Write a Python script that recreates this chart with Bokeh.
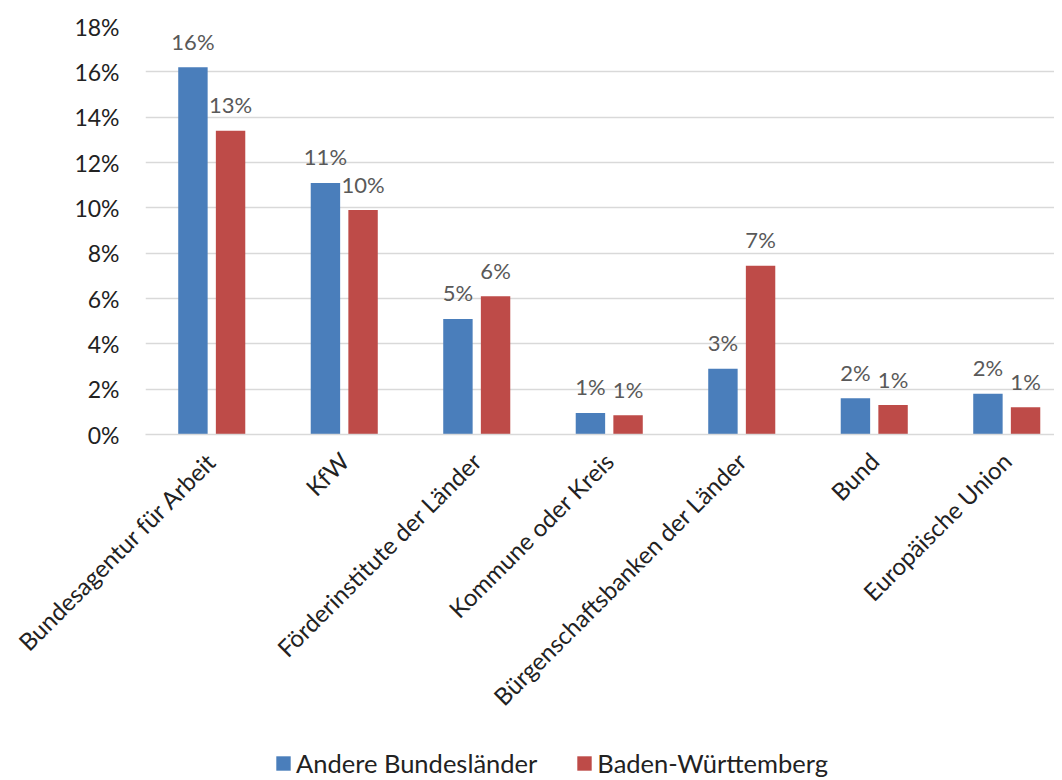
from bokeh.plotting import figure
from bokeh.layouts import column
from bokeh.models import ColumnDataSource, Range1d, FixedTicker, PrintfTickFormatter, Legend, LegendItem
from bokeh.core.properties import value
from bokeh.embed import file_html
from bokeh.resources import INLINE

categories = ["Bundesagentur für Arbeit", "KfW", "Förderinstitute der Länder",
              "Kommune oder Kreis", "Bürgenschaftsbanken der Länder", "Bund",
              "Europäische Union"]
andere = [16.2, 11.1, 5.1, 0.95, 2.9, 1.6, 1.8]
bw = [13.4, 9.9, 6.1, 0.85, 7.45, 1.3, 1.2]
series_names = ["Andere Bundesländer", "Baden-Württemberg"]
y_ticks = [0, 2, 4, 6, 8, 10, 12, 14, 16, 18]

FONT = "Lato"
BLUE = "#4A7EBB"
RED = "#BE4B48"

idx = [i + 0.5 for i in range(len(categories))]
off = 0.142
w = 0.222
src = ColumnDataSource(dict(
    xa=[x - off for x in idx], xb=[x + off for x in idx], a=andere, b=bw,
    la=[f"{round(v):d}%" for v in andere],
    lb=[f"{round(v):d}%" for v in bw],
))

W, H = 1054, 746
LH = 32
left, top, bottom = 145, 26, 434
frame_w = W - left
x_end = frame_w / 132.5

p = figure(width=W, height=H, x_range=Range1d(0, x_end), y_range=Range1d(0, 18),
           output_backend="svg", toolbar_location=None,
           min_border_left=left, min_border_right=0, min_border_top=top,
           min_border_bottom=H - bottom)
p.outline_line_color = None
p.background_fill_color = "white"
p.border_fill_color = "white"

p.vbar(x="xa", top="a", width=w, source=src, fill_color=BLUE, line_color=None)
p.vbar(x="xb", top="b", width=w, source=src, fill_color=RED, line_color=None)

for xc, col, lab in (("xa", "a", "la"), ("xb", "b", "lb")):
    p.text(x=xc, y=col, text=lab, source=src,
           text_align="center", text_baseline="alphabetic", y_offset=-26,
           text_font=value(FONT), text_font_size="22px", text_color="#595959")

p.xgrid.grid_line_color = None
p.ygrid.grid_line_color = "#D9D9D9"
p.ygrid.grid_line_width = 1.5
p.ygrid.ticker = FixedTicker(ticks=y_ticks)

p.yaxis.ticker = FixedTicker(ticks=y_ticks)
p.yaxis.formatter = PrintfTickFormatter(format="%d%%")
p.yaxis.axis_line_color = None
p.yaxis.major_tick_line_color = None
p.yaxis.minor_tick_line_color = None
p.yaxis.major_label_text_font = FONT
p.yaxis.major_label_text_font_size = "23px"
p.yaxis.major_label_text_color = "#222222"
p.yaxis.major_label_standoff = 20

p.xaxis.ticker = FixedTicker(ticks=idx)
p.xaxis.major_label_overrides = {x: c for x, c in zip(idx, categories)}
p.xaxis.axis_line_color = "#D9D9D9"
p.xaxis.axis_line_width = 1.5
p.xaxis.major_tick_line_color = None
p.xaxis.minor_tick_line_color = None
p.xaxis.major_label_orientation = 0.785398
p.xaxis.major_label_text_font = FONT
p.xaxis.major_label_text_font_size = "24px"
p.xaxis.major_label_text_color = "#222222"
p.xaxis.major_label_standoff = 16

# legend strip below the chart
lg = figure(width=W, height=LH, x_range=Range1d(0, 1), y_range=Range1d(0, 1),
            output_backend="svg", toolbar_location=None,
            x_axis_type=None, y_axis_type=None,
            min_border=0, min_border_left=0, min_border_right=0,
            min_border_top=0, min_border_bottom=0)
lg.outline_line_color = None
lg.background_fill_color = None
lg.border_fill_color = None
lg.xgrid.visible = False
lg.ygrid.visible = False
dummy = ColumnDataSource(dict(x=[0.5], top=[-2.0], bottom=[-3.0]))
d1 = lg.vbar(x="x", top="top", bottom="bottom", width=0.1, source=dummy,
             fill_color=BLUE, line_color=None)
d2 = lg.vbar(x="x", top="top", bottom="bottom", width=0.1, source=dummy,
             fill_color=RED, line_color=None)
legend = Legend(items=[LegendItem(label=series_names[0], renderers=[d1]),
                       LegendItem(label=series_names[1], renderers=[d2])],
                orientation="horizontal", location=(129, 0),
                label_text_font=FONT, label_text_font_size="25.5px",
                label_text_color="#222222", glyph_width=18, glyph_height=18,
                spacing=38, label_standoff=4, border_line_color=None,
                background_fill_alpha=0, padding=0, margin=0)
lg.add_layout(legend, "center")

layout = column(p, lg, spacing=0)
open("out.html", "w").write(file_html(layout, INLINE))
